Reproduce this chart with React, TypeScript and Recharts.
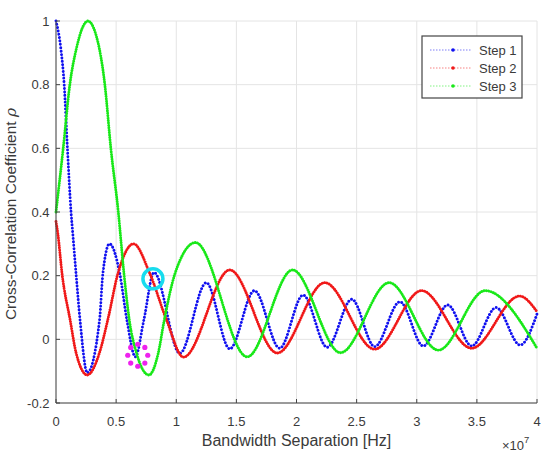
import React from "react";
import { LineChart, Line, XAxis, YAxis, CartesianGrid, ReferenceDot } from "recharts";

// Bandwidth separation in units of 1e7 Hz, cross-correlation coefficient rho
const step1Sep = [0, 0.04, 0.068, 0.095, 0.125, 0.14, 0.168, 0.2, 0.26, 0.362, 0.39, 0.445, 0.53, 0.59, 0.66, 0.73, 0.815, 1.03, 1.25, 1.445, 1.65, 1.86, 2.055, 2.255, 2.46, 2.65, 2.86, 3.054, 3.257, 3.457, 3.66, 3.86, 4.0];
const step1Rho = [1.0, 0.914, 0.8, 0.6, 0.4, 0.33, 0.2, 0.06, -0.105, 0.06, 0.207, 0.3, 0.207, 0.06, -0.055, 0.06, 0.21, -0.044, 0.178, -0.03, 0.153, -0.028, 0.139, -0.025, 0.126, -0.023, 0.118, -0.021, 0.108, -0.021, 0.1, -0.018, 0.08];

const step2Sep = [0, 0.015, 0.05, 0.118, 0.168, 0.26, 0.36, 0.43, 0.515, 0.645, 0.78, 0.92, 1.06, 1.445, 1.84, 2.235, 2.65, 3.04, 3.457, 3.855, 4.0];
const step2Rho = [0.37, 0.333, 0.207, 0.06, -0.044, -0.112, -0.044, 0.06, 0.207, 0.3, 0.207, 0.06, -0.056, 0.218, -0.043, 0.178, -0.031, 0.153, -0.028, 0.136, 0.087];

const step3Sep = [0, 0.06, 0.115, 0.17, 0.265, 0.36, 0.406, 0.456, 0.518, 0.565, 0.61, 0.67, 0.773, 0.85, 0.9, 0.99, 1.16, 1.59, 1.967, 2.366, 2.77, 3.18, 3.568, 4.0];
const step3Rho = [0.4, 0.6, 0.8, 0.914, 1.0, 0.914, 0.8, 0.6, 0.4, 0.207, 0.06, -0.044, -0.112, -0.044, 0.06, 0.207, 0.304, -0.055, 0.218, -0.042, 0.178, -0.034, 0.153, -0.028];

const seriesNames = ["Step 1", "Step 2", "Step 3"];
const seriesColors = ["#1010f0", "#f01818", "#18e818"];

const xTicks = [0, 0.5, 1, 1.5, 2, 2.5, 3, 3.5, 4];
const yTicks = [-0.2, 0, 0.2, 0.4, 0.6, 0.8, 1];

// highlighted points
const ringMarks = [{ sep: 0.68, rho: -0.05 }];
const circleMarks = [{ sep: 0.806, rho: 0.19 }];

const toRows = (sep: number[], rho: number[]) => sep.map((s, i) => ({ sep: s, rho: rho[i] }));

const series = [
  { name: seriesNames[0], color: seriesColors[0], rows: toRows(step1Sep, step1Rho), gap: 3.4 },
  { name: seriesNames[1], color: seriesColors[1], rows: toRows(step2Sep, step2Rho), gap: 2.4 },
  { name: seriesNames[2], color: seriesColors[2], rows: toRows(step3Sep, step3Rho), gap: 2.4 },
];

const FONT = "Arial, 'Liberation Sans', Helvetica, sans-serif";
const AXIS = "#444";
const TEXT = "#3a3a3a";

function MagentaRing(props: any) {
  const { cx, cy } = props;
  if (cx == null || cy == null) return null;
  const pts = [0, 1, 2, 3, 4, 5, 6, 7].map((k) => {
    const a = (k * Math.PI) / 4;
    return [cx + 10 * Math.cos(a), cy + 11 * Math.sin(a)];
  });
  return (
    <g>
      {pts.map(([x, y], i) => (
        <circle key={i} cx={x} cy={y} r={2.6} fill="#ee22ee" />
      ))}
    </g>
  );
}

function CyanCircle(props: any) {
  const { cx, cy } = props;
  if (cx == null || cy == null) return null;
  return <circle cx={cx} cy={cy} r={10} fill="none" stroke="#18dcee" strokeWidth={3.5} />;
}

function LegendBox() {
  const x0 = 422;
  const y0 = 36;
  return (
    <g fontFamily={FONT}>
      <rect x={x0} y={y0} width={100} height={62} fill="#fff" stroke={AXIS} strokeWidth={1.2} />
      {series.map((s, i) => {
        const y = y0 + 14 + i * 18;
        return (
          <g key={s.name}>
            <line x1={x0 + 8} x2={x0 + 50} y1={y} y2={y} stroke={s.color} strokeWidth={0.9} strokeDasharray="1.5 1.5" strokeOpacity={0.6} />
            <circle cx={x0 + 31} cy={y} r={1.8} fill={s.color} />
            <text x={x0 + 57} y={y + 4.5} fontSize={13} fill={TEXT}>
              {s.name}
            </text>
          </g>
        );
      })}
    </g>
  );
}

export default function App() {
  return (
    <div style={{ position: "absolute", left: 0, top: 0, background: "#fff" }}>
      <LineChart width={547} height={452} margin={{ top: 21, right: 10, bottom: 0, left: 0 }}>
        <CartesianGrid stroke="#e4e4e4" strokeWidth={1} />
        <XAxis
          dataKey="sep"
          type="number"
          domain={[0, 4]}
          ticks={xTicks}
          height={49}
          allowDuplicatedCategory={false}
          stroke={AXIS}
          tickSize={-4}
          tickMargin={18}
          tick={{ fontSize: 13, fill: TEXT, fontFamily: FONT }}
          label={{ value: "Bandwidth Separation [Hz]", position: "insideBottom", offset: 6, fontSize: 16, fill: TEXT, fontFamily: FONT }}
        />
        <XAxis xAxisId="top" orientation="top" type="number" domain={[0, 4]} ticks={xTicks} height={0} stroke={AXIS} tickSize={-4} tick={false} />
        <YAxis
          type="number"
          domain={[-0.2, 1]}
          ticks={yTicks}
          width={56}
          stroke={AXIS}
          tickSize={-4}
          tickMargin={10.5}
          tick={{ fontSize: 13, fill: TEXT, fontFamily: FONT }}
        />
        <YAxis yAxisId="right" orientation="right" type="number" domain={[-0.2, 1]} ticks={yTicks} width={0} stroke={AXIS} tickSize={-4} tick={false} />

        {series.map((s) => (
          <Line
            key={s.name + "-thin"}
            data={s.rows}
            dataKey="rho"
            type="monotone"
            stroke={s.color}
            strokeWidth={0.8}
            strokeDasharray="1.5 1.5"
            strokeOpacity={0.5}
            dot={false}
            activeDot={false}
            legendType="none"
            isAnimationActive={false}
          />
        ))}
        {series.map((s) => (
          <Line
            key={s.name}
            name={s.name}
            data={s.rows}
            dataKey="rho"
            type="monotone"
            stroke={s.color}
            strokeWidth={2.9}
            strokeDasharray={`0.01 ${s.gap}`}
            strokeLinecap="round"
            dot={false}
            activeDot={false}
            isAnimationActive={false}
          />
        ))}

        {ringMarks.map((m, i) => (
          <ReferenceDot key={"ring" + i} x={m.sep} y={m.rho} r={10} shape={<MagentaRing />} />
        ))}
        {circleMarks.map((m, i) => (
          <ReferenceDot key={"circ" + i} x={m.sep} y={m.rho} r={10} shape={<CyanCircle />} />
        ))}

        <LegendBox />

        <text x={16} y={214} transform="rotate(-90 16 214)" textAnchor="middle" fontSize={15.5} fill={TEXT} fontFamily={FONT}>
          Cross-Correlation Coefficient{"  "}
          <tspan fontStyle="italic" fontFamily="'DejaVu Serif', serif">ρ</tspan>
        </text>
        <text x={502} y={450} fontSize={13} fill={TEXT} fontFamily={FONT}>
          ×10
          <tspan dy={-7} fontSize={9.5}>7</tspan>
        </text>
      </LineChart>
    </div>
  );
}
